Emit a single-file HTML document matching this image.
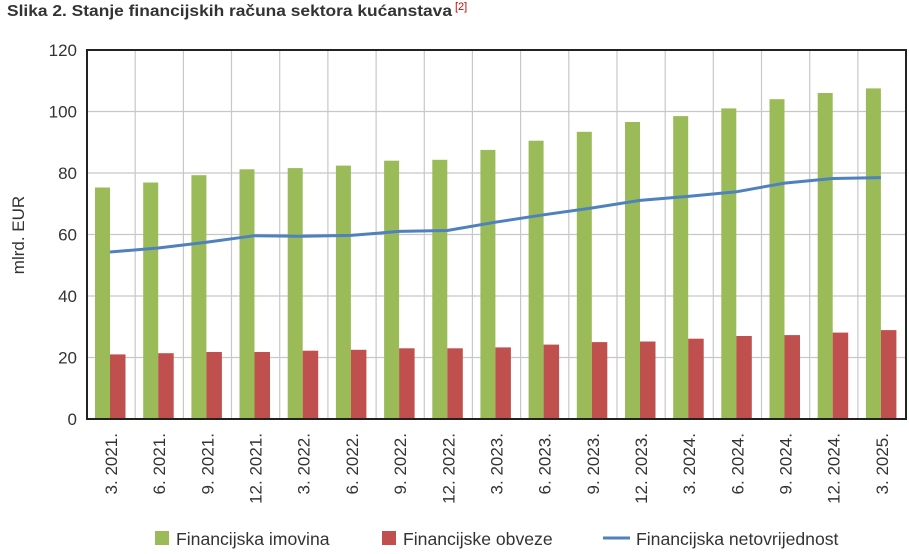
<!DOCTYPE html>
<html><head><meta charset="utf-8"><style>body{margin:0;background:#fff}svg{display:block;font-family:"Liberation Sans",Arial,sans-serif}</style></head><body>
<svg width="909" height="554" viewBox="0 0 909 554" xmlns="http://www.w3.org/2000/svg">
<text x="7" y="16" font-size="16" font-weight="bold" fill="#333" textLength="445" lengthAdjust="spacingAndGlyphs">Slika 2. Stanje financijskih računa sektora kućanstava</text>
<text x="455" y="10" font-size="11" fill="#c00">[2]</text>
<g stroke="#c8c8c8" stroke-width="1.2">
<line x1="87" x2="906" y1="357.5" y2="357.5"/><line x1="87" x2="906" y1="296" y2="296"/><line x1="87" x2="906" y1="234.5" y2="234.5"/><line x1="87" x2="906" y1="173" y2="173"/><line x1="87" x2="906" y1="111.5" y2="111.5"/>
<line x1="135.2" x2="135.2" y1="50" y2="419"/><line x1="183.4" x2="183.4" y1="50" y2="419"/><line x1="231.5" x2="231.5" y1="50" y2="419"/><line x1="279.7" x2="279.7" y1="50" y2="419"/><line x1="327.9" x2="327.9" y1="50" y2="419"/><line x1="376.1" x2="376.1" y1="50" y2="419"/><line x1="424.3" x2="424.3" y1="50" y2="419"/><line x1="472.4" x2="472.4" y1="50" y2="419"/><line x1="520.6" x2="520.6" y1="50" y2="419"/><line x1="568.8" x2="568.8" y1="50" y2="419"/><line x1="617" x2="617" y1="50" y2="419"/><line x1="665.2" x2="665.2" y1="50" y2="419"/><line x1="713.3" x2="713.3" y1="50" y2="419"/><line x1="761.5" x2="761.5" y1="50" y2="419"/><line x1="809.7" x2="809.7" y1="50" y2="419"/><line x1="857.9" x2="857.9" y1="50" y2="419"/>
</g>
<g fill="#9bbb59">
<rect x="95" y="187.5" width="15" height="231.5"/><rect x="143.2" y="182.5" width="15" height="236.5"/><rect x="191.4" y="175.2" width="15" height="243.8"/><rect x="239.5" y="169.3" width="15" height="249.7"/><rect x="287.7" y="168.1" width="15" height="250.9"/><rect x="335.9" y="165.6" width="15" height="253.4"/><rect x="384.1" y="160.7" width="15" height="258.3"/><rect x="432.3" y="159.8" width="15" height="259.2"/><rect x="480.4" y="149.9" width="15" height="269.1"/><rect x="528.6" y="140.7" width="15" height="278.3"/><rect x="576.8" y="131.8" width="15" height="287.2"/><rect x="625" y="122" width="15" height="297"/><rect x="673.2" y="116.1" width="15" height="302.9"/><rect x="721.3" y="108.4" width="15" height="310.6"/><rect x="769.5" y="99.2" width="15" height="319.8"/><rect x="817.7" y="93" width="15" height="326"/><rect x="865.9" y="88.4" width="15" height="330.6"/>
</g>
<g fill="#c0504d">
<rect x="110" y="354.4" width="15.5" height="64.6"/><rect x="158.2" y="353.2" width="15.5" height="65.8"/><rect x="206.4" y="352" width="15.5" height="67"/><rect x="254.5" y="352" width="15.5" height="67"/><rect x="302.7" y="350.7" width="15.5" height="68.3"/><rect x="350.9" y="349.8" width="15.5" height="69.2"/><rect x="399.1" y="348.3" width="15.5" height="70.7"/><rect x="447.3" y="348.3" width="15.5" height="70.7"/><rect x="495.4" y="347.4" width="15.5" height="71.6"/><rect x="543.6" y="344.6" width="15.5" height="74.4"/><rect x="591.8" y="342.1" width="15.5" height="76.9"/><rect x="640" y="341.5" width="15.5" height="77.5"/><rect x="688.2" y="338.7" width="15.5" height="80.3"/><rect x="736.3" y="336" width="15.5" height="83"/><rect x="784.5" y="335.1" width="15.5" height="83.9"/><rect x="832.7" y="332.6" width="15.5" height="86.4"/><rect x="880.9" y="330.1" width="15.5" height="88.9"/>
</g>
<polyline fill="none" stroke="#4f81bd" stroke-width="3" stroke-linejoin="round" points="110,252 158.2,248 206.4,242.2 254.5,235.7 302.7,236.3 350.9,235.4 399.1,231.4 447.3,230.5 495.4,222.2 543.6,214.8 591.8,208 640,200.4 688.2,196.4 736.3,191.8 784.5,183.1 832.7,178.5 880.9,177.6"/>
<rect x="87" y="50" width="819" height="369" fill="none" stroke="#222" stroke-width="2"/>
<g font-size="17" fill="#333" text-anchor="end">
<text x="77" y="425">0</text><text x="77" y="363.5">20</text><text x="77" y="302">40</text><text x="77" y="240.5">60</text><text x="77" y="179">80</text><text x="77" y="117.5">100</text><text x="77" y="56">120</text>
</g>
<text transform="translate(24,235) rotate(-90)" font-size="17" fill="#333" text-anchor="middle">mlrd. EUR</text>
<g font-size="17" fill="#333" text-anchor="end">
<text transform="translate(117,433) rotate(-90)">3. 2021.</text>
<text transform="translate(165.2,433) rotate(-90)">6. 2021.</text>
<text transform="translate(213.4,433) rotate(-90)">9. 2021.</text>
<text transform="translate(261.5,433) rotate(-90)">12. 2021.</text>
<text transform="translate(309.7,433) rotate(-90)">3. 2022.</text>
<text transform="translate(357.9,433) rotate(-90)">6. 2022.</text>
<text transform="translate(406.1,433) rotate(-90)">9. 2022.</text>
<text transform="translate(454.3,433) rotate(-90)">12. 2022.</text>
<text transform="translate(502.4,433) rotate(-90)">3. 2023.</text>
<text transform="translate(550.6,433) rotate(-90)">6. 2023.</text>
<text transform="translate(598.8,433) rotate(-90)">9. 2023.</text>
<text transform="translate(647,433) rotate(-90)">12. 2023.</text>
<text transform="translate(695.2,433) rotate(-90)">3. 2024.</text>
<text transform="translate(743.3,433) rotate(-90)">6. 2024.</text>
<text transform="translate(791.5,433) rotate(-90)">9. 2024.</text>
<text transform="translate(839.7,433) rotate(-90)">12. 2024.</text>
<text transform="translate(887.9,433) rotate(-90)">3. 2025.</text>
</g>
<rect x="155" y="531" width="14" height="14" fill="#9bbb59"/>
<text x="176" y="545" font-size="17.6" fill="#333">Financijska imovina</text>
<rect x="382" y="531" width="14" height="14" fill="#c0504d"/>
<text x="403" y="545" font-size="17.6" fill="#333">Financijske obveze</text>
<line x1="603" x2="630" y1="538" y2="538" stroke="#4f81bd" stroke-width="3"/>
<text x="636" y="545" font-size="17.6" fill="#333">Financijska netovrijednost</text>
</svg>
</body></html>
